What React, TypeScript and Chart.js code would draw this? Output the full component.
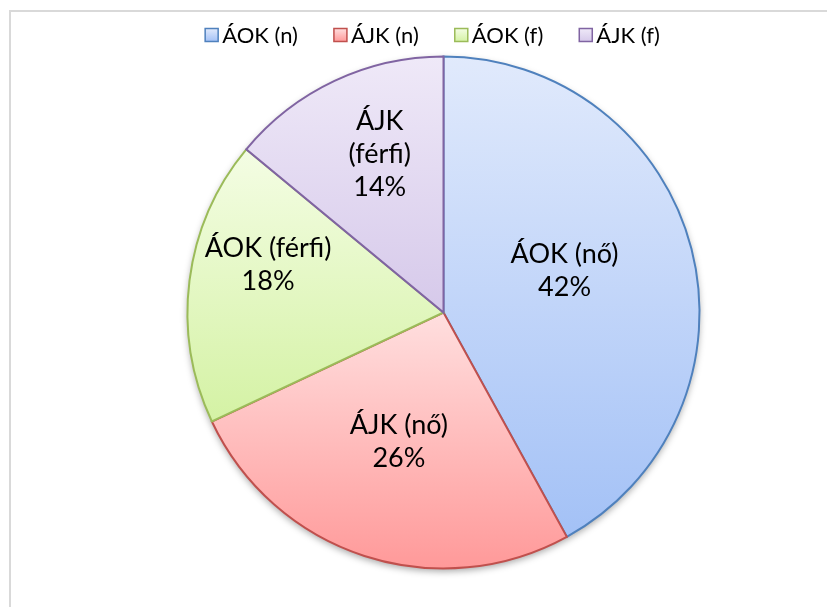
import React, { useEffect, useRef } from "react";
import { Chart, registerables } from "chart.js";

Chart.register(...registerables);

// ---- data ----
const categories = ["ÁOK (nő)", "ÁJK (nő)", "ÁOK (férfi)", "ÁJK (férfi)"];
const sliceLabelLines = [["ÁOK (nő)"], ["ÁJK (nő)"], ["ÁOK (férfi)"], ["ÁJK", "(férfi)"]];
const legendLabels = ["ÁOK (n)", "ÁJK (n)", "ÁOK (f)", "ÁJK (f)"];
const values = [42, 26, 18, 14];

// ---- styles ----
const topColors = ["#e1eafc", "#ffdfdf", "#f4fde4", "#efe9f8"];
const bottomColors = ["#a3c1f6", "#ff9999", "#d4f2a4", "#d6c9ea"];
const borderColors = ["#4f81bd", "#c0504d", "#9bbb59", "#8064a2"];
const labelRadiusFrac = [0.5, 0.535, 0.71, 0.668];
const labelAngleShiftDeg = [-4.5, 1, 8, 3.3];
const FONT = "Lato, 'Open Sans', sans-serif";

function sliceGradient(ctx: any, index: number) {
  const chart = ctx.chart;
  const area = chart.chartArea;
  if (!area) return topColors[index];
  const cx = (area.left + area.right) / 2;
  const cy = (area.top + area.bottom) / 2;
  const r = Math.min(area.right - area.left, area.bottom - area.top) / 2;
  const total = values.reduce((a, b) => a + b, 0);
  let start = 0;
  for (let i = 0; i < index; i++) start += values[i];
  const a0 = (start / total) * Math.PI * 2;
  const a1 = ((start + values[index]) / total) * Math.PI * 2;
  const ys = [cy, cy - r * Math.cos(a0), cy - r * Math.cos(a1)];
  if (a0 <= 0.0001) ys.push(cy - r);
  if (a0 <= Math.PI && a1 >= Math.PI) ys.push(cy + r);
  if (a1 >= Math.PI * 2 - 0.0001) ys.push(cy - r);
  const minY = Math.min(...ys);
  const maxY = Math.max(...ys);
  const g = chart.ctx.createLinearGradient(0, minY, 0, maxY);
  g.addColorStop(0, topColors[index]);
  g.addColorStop(1, bottomColors[index]);
  return g;
}

const shadowPlugin = {
  id: "pieShadow",
  beforeDatasetsDraw(chart: any) {
    const meta = chart.getDatasetMeta(0);
    const arc = meta.data[0];
    if (!arc) return;
    const { x, y, outerRadius } = arc.getProps(["x", "y", "outerRadius"], true);
    const ctx = chart.ctx;
    ctx.save();
    ctx.shadowColor = "rgba(0,0,0,0.35)";
    ctx.shadowBlur = 7;
    ctx.shadowOffsetX = 0;
    ctx.shadowOffsetY = 3;
    ctx.beginPath();
    ctx.arc(x, y, outerRadius, 0, Math.PI * 2);
    ctx.fillStyle = "#ffffff";
    ctx.fill();
    ctx.restore();
  },
};

const labelPlugin = {
  id: "sliceLabels",
  afterDatasetsDraw(chart: any) {
    const meta = chart.getDatasetMeta(0);
    const ctx = chart.ctx;
    const total = values.reduce((a, b) => a + b, 0);
    ctx.save();
    ctx.font = `27px ${FONT}`;
    ctx.fillStyle = "#000000";
    ctx.textAlign = "center";
    ctx.textBaseline = "middle";
    const lineH = 33;
    meta.data.forEach((arc: any, i: number) => {
      const p = arc.getProps(["x", "y", "startAngle", "endAngle", "outerRadius"], true);
      const mid = (p.startAngle + p.endAngle) / 2 + (labelAngleShiftDeg[i] * Math.PI) / 180;
      const r = p.outerRadius * labelRadiusFrac[i];
      const lx = p.x + r * Math.cos(mid);
      const ly = p.y + r * Math.sin(mid);
      const lines = [...sliceLabelLines[i], Math.round((values[i] / total) * 100) + "%"];
      const y0 = ly - ((lines.length - 1) * lineH) / 2;
      lines.forEach((t, k) => ctx.fillText(t, lx, y0 + k * lineH));
    });
    ctx.restore();
  },
};

const legendPlugin = {
  id: "topLegend",
  afterDraw(chart: any) {
    const ctx = chart.ctx;
    ctx.save();
    ctx.font = `22px ${FONT}`;
    ctx.textBaseline = "middle";
    ctx.textAlign = "left";
    const box = 13;
    const gapBox = 4;
    const gapItem = 36;
    const widths = legendLabels.map((t) => ctx.measureText(t).width);
    const total = widths.reduce((s, w) => s + box + gapBox + w, 0) + gapItem * (legendLabels.length - 1);
    let x = 432.5 - total / 2;
    const cy = 35;
    legendLabels.forEach((t, i) => {
      const g = ctx.createLinearGradient(0, cy - box / 2, 0, cy + box / 2);
      g.addColorStop(0, topColors[i]);
      g.addColorStop(1, bottomColors[i]);
      ctx.fillStyle = g;
      ctx.fillRect(x, cy - box / 2, box, box);
      ctx.strokeStyle = borderColors[i];
      ctx.lineWidth = 1.5;
      ctx.strokeRect(x, cy - box / 2, box, box);
      ctx.fillStyle = "#000000";
      ctx.fillText(t, x + box + gapBox, cy + 1);
      x += box + gapBox + widths[i] + gapItem;
    });
    ctx.restore();
  },
};

export default function App() {
  const canvasRef = useRef<HTMLCanvasElement | null>(null);

  useEffect(() => {
    const canvas = canvasRef.current;
    if (!canvas) return;
    const chart = new Chart(canvas, {
      type: "pie",
      data: {
        labels: categories,
        datasets: [
          {
            data: values,
            backgroundColor: (ctx: any) => sliceGradient(ctx, ctx.dataIndex),
            borderColor: borderColors,
            borderWidth: 2,
            borderJoinStyle: "miter",
          } as any,
        ],
      },
      options: {
        responsive: false,
        animation: false,
        layout: { padding: { left: 186.5, right: 126.5, top: 55.5, bottom: 37.5 } },
        plugins: {
          legend: { display: false },
          tooltip: { enabled: false },
        },
      } as any,
      plugins: [shadowPlugin, labelPlugin, legendPlugin],
    });
    return () => chart.destroy();
  }, []);

  return (
    <div
      style={{
        position: "fixed",
        left: 0,
        top: 0,
        width: 827,
        height: 607,
        background: "#ffffff",
        overflow: "hidden",
      }}
    >
      <div
        style={{
          position: "absolute",
          left: 9,
          top: 10,
          width: 840,
          height: 640,
          border: "2px solid #d9d9d9",
          boxSizing: "border-box",
        }}
      />
      <canvas
        ref={canvasRef}
        width={827}
        height={607}
        style={{ position: "absolute", left: 0, top: 0, width: 827, height: 607 }}
      />
    </div>
  );
}
